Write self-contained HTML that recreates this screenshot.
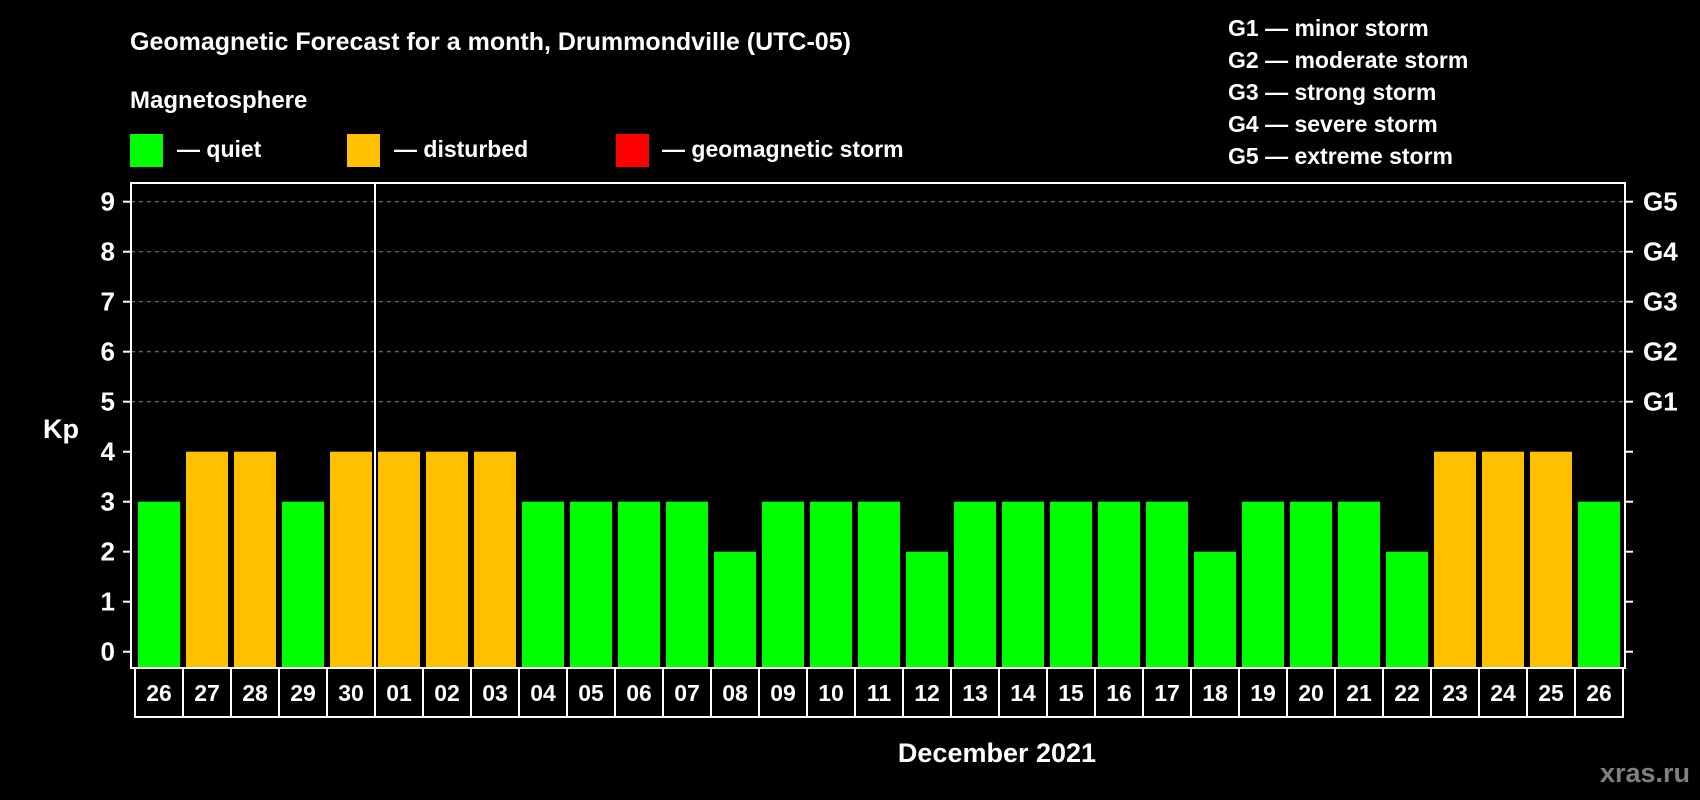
<!DOCTYPE html>
<html><head><meta charset="utf-8"><style>
body{margin:0;background:#000;}
svg{display:block;font-family:"Liberation Sans",Arial,sans-serif;font-weight:bold;}
</style></head><body>
<svg id="c" width="1700" height="800" viewBox="0 0 1700 800">
<rect width="1700" height="800" fill="#000"/>
<text x="130" y="50" fill="#fff" font-size="25">Geomagnetic Forecast for a month, Drummondville (UTC-05)</text>
<text x="130" y="108" fill="#fff" font-size="24">Magnetosphere</text>
<g><rect x="130" y="134" width="33" height="33" fill="#00ff00"/><text x="177" y="157" fill="#fff" font-size="23">— quiet</text></g>
<g><rect x="347" y="134" width="33" height="33" fill="#ffc000"/><text x="394" y="157" fill="#fff" font-size="23">— disturbed</text></g>
<g><rect x="616" y="134" width="33" height="33" fill="#ff0000"/><text x="662" y="157" fill="#fff" font-size="23">— geomagnetic storm</text></g>
<g fill="#fff" font-size="23">
<text x="1228" y="36">G1 — minor storm</text><text x="1228" y="68">G2 — moderate storm</text><text x="1228" y="100">G3 — strong storm</text><text x="1228" y="132">G4 — severe storm</text><text x="1228" y="164">G5 — extreme storm</text>
</g>
<text x="43" y="438" fill="#fff" font-size="27">Kp</text>
<text x="997" y="762" fill="#fff" font-size="27" text-anchor="middle">December 2021</text>
<text x="1690" y="782" fill="#808080" font-size="27" text-anchor="end">xras.ru</text>
<g id="plot"></g>
</svg>
<script>
const days=["26","27","28","29","30","01","02","03","04","05","06","07","08","09","10","11","12","13","14","15","16","17","18","19","20","21","22","23","24","25","26"];
const kp=[3,4,4,3,4,4,4,4,3,3,3,3,2,3,3,3,2,3,3,3,3,3,2,3,3,3,2,4,4,4,3];
const yTicks=[0,1,2,3,4,5,6,7,8,9];
const gLabels=["G1","G2","G3","G4","G5"];
const NS="http://www.w3.org/2000/svg";
const g=document.getElementById('plot');
const L=131,R=1625,T=183,B=668;
const y=v=>651.7-v*50;
const x=i=>135+i*48;
function el(t,a,p){const e=document.createElementNS(NS,t);for(const k in a)e.setAttribute(k,a[k]);(p||g).appendChild(e);return e;}
yTicks.forEach(v=>{
  if(v>=5){const l=el('line',{x1:L,x2:R,y1:y(v),y2:y(v),stroke:'#888','stroke-dasharray':'4,4','stroke-width':1});
  
  }
  const t=el('line',{x1:L-8,x2:L,y1:y(v),y2:y(v),stroke:'#fff','stroke-width':2});
  
  
  const t2=el('line',{x1:R,x2:R+8,y1:y(v),y2:y(v),stroke:'#fff','stroke-width':2});
  
  
  const lb=el('text',{x:115,y:y(v)+9,fill:'#fff','font-size':26,'text-anchor':'end'});lb.textContent=v;
  
  
});
gLabels.forEach((s,i)=>{const t=el('text',{x:1643,y:y(5+i)+9,fill:'#fff','font-size':26});t.textContent=s;
  
  });
kp.forEach((v,i)=>{
  const c=v>=5?'#ff0000':(v>=4?'#ffc000':'#00ff00');
  const b=el('rect',{x:x(i)+3,y:y(v),width:42,height:B-y(v),fill:c});
  
  
});
const fr=el('rect',{x:L,y:T,width:R-L,height:B-T,fill:'none',stroke:'#fff','stroke-width':2});


const sep=el('line',{x1:x(5),x2:x(5),y1:T,y2:B,stroke:'#fff','stroke-width':2});


days.forEach((d,i)=>{
  const r=el('rect',{x:x(i),y:B,width:48,height:49,fill:'none',stroke:'#fff','stroke-width':2});
  
  
  const t=el('text',{x:x(i)+24,y:B+33,fill:'#fff','font-size':23,'text-anchor':'middle'});t.textContent=d;
  
  
});
</script>
</body></html>
